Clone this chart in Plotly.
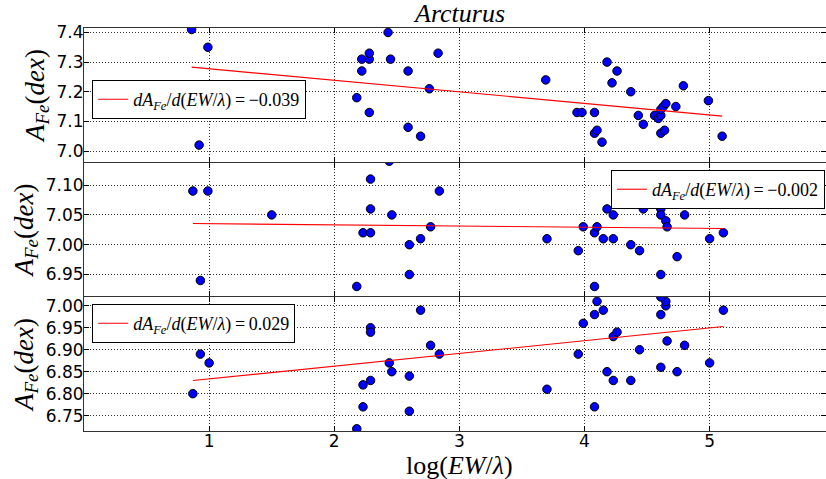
import plotly.graph_objects as go
from plotly.subplots import make_subplots

# log(EW/lambda) and iron abundance for each line, one pair of lists per panel
x_top = [0.86, 0.99, 0.92, 1.49,
         2.18, 2.22, 2.22, 2.28, 2.28, 2.28, 2.43, 2.45, 2.59, 2.59, 2.69, 2.76, 2.83,
         3.69, 3.94, 3.98, 4.08, 4.08, 4.10, 4.14, 4.18, 4.26, 4.22, 4.37, 4.43, 4.47,
         4.56, 4.59, 4.61, 4.61, 4.63, 4.65, 4.61, 4.64, 4.73, 4.79, 4.99, 5.10]
y_top = [7.41, 7.35, 7.02, 7.14,
         7.18, 7.27, 7.31, 7.31, 7.33, 7.13, 7.40, 7.31, 7.27, 7.08, 7.05, 7.21, 7.33,
         7.24, 7.13, 7.13, 7.13, 7.06, 7.07, 7.03, 7.30, 7.27, 7.23, 7.20, 7.12, 7.09,
         7.12, 7.11, 7.12, 7.14, 7.15, 7.16, 7.06, 7.07, 7.15, 7.22, 7.17, 7.05]

x_mid = [0.87, 0.99, 0.93, 1.50,
         2.18, 2.23, 2.29, 2.29, 2.29, 2.44, 2.46, 2.60, 2.60, 2.69, 2.77, 2.84,
         3.70, 3.95, 3.99, 4.08, 4.10, 4.08, 4.15, 4.18, 4.23, 4.23, 4.26, 4.37, 4.44,
         4.47, 4.61, 4.61, 4.65, 4.65, 4.66, 4.61, 4.74, 4.80, 5.00, 5.11]
y_mid = [7.09, 7.09, 6.94, 7.05,
         6.93, 7.02, 7.02, 7.11, 7.06, 7.14, 7.05, 7.00, 6.95, 7.01, 7.03, 7.09,
         7.01, 6.99, 7.03, 7.02, 7.03, 6.93, 7.01, 7.06, 7.05, 7.01, 7.08, 7.00, 6.99,
         7.06, 7.06, 7.05, 7.07, 7.04, 7.03, 6.95, 6.98, 7.05, 7.01, 7.02]

x_bot = [0.87, 0.93, 1.00,
         2.18, 2.23, 2.23, 2.29, 2.29, 2.29, 2.44, 2.46, 2.60, 2.60, 2.69, 2.77, 2.84,
         3.70, 3.95, 3.99, 4.08, 4.10, 4.15, 4.08, 4.18, 4.23, 4.23, 4.26, 4.37, 4.44,
         4.61, 4.61, 4.65, 4.65, 4.61, 4.66, 4.74, 4.80, 5.00, 5.11]
y_bot = [6.80, 6.89, 6.87,
         6.72, 6.77, 6.82, 6.83, 6.95, 6.94, 6.87, 6.85, 6.84, 6.76, 6.99, 6.91, 6.89,
         6.81, 6.89, 6.96, 6.98, 7.01, 6.99, 6.77, 6.85, 6.83, 6.93, 6.94, 6.83, 6.90,
         6.86, 6.98, 7.00, 7.01, 7.02, 6.92, 6.85, 6.91, 6.87, 6.99]

# linear fits: A_Fe = intercept + slope * log(EW/lambda)
slopes = [-0.039, -0.002, 0.029]
intercepts = [7.3165, 7.0373, 6.8046]

y_ranges = [[6.963, 7.415], [6.914, 7.137], [6.715, 7.020]]
y_ticks = [[7.0, 7.1, 7.2, 7.3, 7.4],
           [6.95, 7.00, 7.05, 7.10],
           [6.75, 6.80, 6.85, 6.90, 6.95, 7.00]]
y_fmt = [".1f", ".2f", ".2f"]
x_ticks = [1, 2, 3, 4, 5]

MATH = "Liberation Serif"
SANS = "DejaVu Sans"
FRAME_W = 1
PLOT_H = 479 - 28 - 48   # 403 px of plotting height
# axis lines sit just outside each panel, so a one-line gap between panels
# lets the frame lines of neighbouring panels fall on the same pixel row
domains = [[269 / PLOT_H, 1.0], [135 / PLOT_H, 268 / PLOT_H], [0.0, 134 / PLOT_H]]

legend_pos = [dict(x=0.011, y=0.871, xanchor="left"),
              dict(x=0.9985, y=0.6476, xanchor="right"),
              dict(x=0.011, y=0.315, xanchor="left")]

panels = [(x_top, y_top), (x_mid, y_mid), (x_bot, y_bot)]

fig = make_subplots(rows=3, cols=1, shared_xaxes=True, vertical_spacing=0)

for i, (xs, ys) in enumerate(panels):
    row = i + 1
    lg = "legend" if i == 0 else f"legend{i + 1}"
    fig.add_trace(go.Scatter(
        x=xs, y=ys, mode="markers", showlegend=False,
        marker=dict(size=8.5, color="#0000ff", line=dict(color="black", width=1)),
    ), row=row, col=1)
    x0, x1 = min(xs), max(xs)
    m, b = slopes[i], intercepts[i]
    label = ("<i>dA</i><sub><i>Fe</i></sub>/<i>d</i>(<i>EW</i>/<i>λ</i>)"
             f"\u2009=\u2009{m:.3f}".replace("-", "−"))
    fig.add_trace(go.Scatter(
        x=[x0, x1], y=[b + m * x0, b + m * x1], mode="lines",
        line=dict(color="red", width=1.1), name=label, legend=lg, showlegend=True,
    ), row=row, col=1)

    fig.update_yaxes(
        range=y_ranges[i], tickvals=y_ticks[i], tickformat=y_fmt[i],
        domain=domains[i],
        showgrid=True, gridcolor="#333", griddash="1px,2px", gridwidth=1,
        showline=True, mirror="ticks", linecolor="#333", linewidth=FRAME_W,
        ticks="inside", ticklen=5, tickcolor="black", ticklabelstandoff=-4,
        tickfont=dict(family=SANS, size=17, color="black"),
        zeroline=False,
        title=dict(text="<i>A</i><sub><i>Fe</i></sub>(<i>dex</i>)",
                   font=dict(family=MATH, size=27, color="black"), standoff=4),
        row=row, col=1,
    )
    fig.update_xaxes(
        range=[0, 5.93], tickvals=x_ticks,
        showgrid=True, gridcolor="#333", griddash="1px,2px", gridwidth=1,
        showline=True, mirror="ticks", linecolor="#333", linewidth=FRAME_W,
        ticks="inside", ticklen=5, tickcolor="black", ticklabelstandoff=-5,
        tickfont=dict(family=SANS, size=17, color="black"),
        zeroline=False, showticklabels=(row == 3),
        row=row, col=1,
    )

legend_style = dict(
    yanchor="top", bgcolor="white", bordercolor="black",
    borderwidth=1, font=dict(family=MATH, size=18, color="black"),
    itemwidth=30, tracegroupgap=0,
)
fig.update_layout(
    legend=dict(**legend_pos[0], **legend_style),
    legend2=dict(**legend_pos[1], **legend_style),
    legend3=dict(**legend_pos[2], **legend_style),
)

fig.add_annotation(
    text="<i>Arcturus</i>", xref="x", yref="paper", x=3, y=1, yanchor="bottom",
    yshift=-2, showarrow=False, font=dict(family=MATH, size=26, color="black"),
)
fig.add_annotation(
    text="log(<i>EW</i>/<i>λ</i>)", xref="x3", yref="paper", x=3, y=0,
    yanchor="middle", yshift=-34, showarrow=False,
    font=dict(family=MATH, size=26, color="black"),
)

fig.update_layout(
    width=826, height=479,
    margin=dict(l=84, r=0, t=28, b=48),
    paper_bgcolor="white", plot_bgcolor="white",
    showlegend=True,
)

fig.write_html("out.html")
